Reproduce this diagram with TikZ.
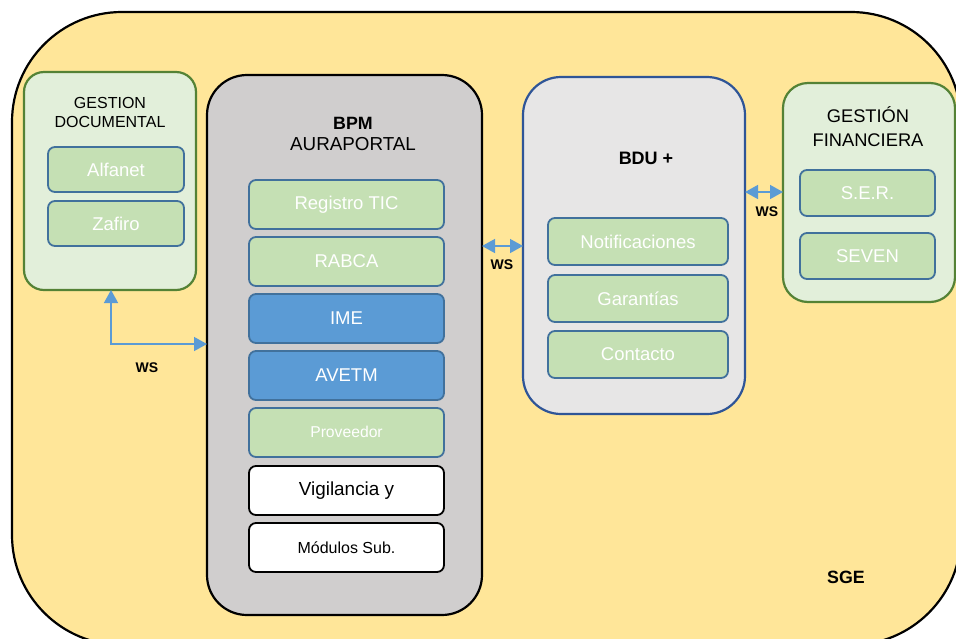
\documentclass[tikz,border=0pt]{standalone}
\usepackage{fontspec}
\setmainfont{Liberation Sans}
\usetikzlibrary{arrows.meta}
\definecolor{sgefill}{HTML}{FFE699}
\definecolor{gdfill}{HTML}{E2EFDA}
\definecolor{gdline}{HTML}{548235}
\definecolor{itemfill}{HTML}{C5E0B4}
\definecolor{itemline}{HTML}{41719C}
\definecolor{bpmfill}{HTML}{D0CECE}
\definecolor{bdufill}{HTML}{E7E6E6}
\definecolor{bduline}{HTML}{2F5597}
\definecolor{imefill}{HTML}{5B9BD5}
\definecolor{wsblue}{HTML}{5B9BD5}
\begin{document}
\begin{tikzpicture}[x=1pt,y=-1pt,
  box/.style={anchor=north west, inner sep=0pt, outer sep=0pt},
  container/.style={box, line width=2.2pt},
  item/.style={box, draw=itemline, fill=itemfill, line width=1.8pt, rounded corners=7pt,
     text=white, font=\fontsize{18.5}{20}\selectfont},
  blueitem/.style={item, fill=imefill},
  whiteitem/.style={box, draw=black, fill=white, line width=1.8pt, rounded corners=7pt,
     text=black},
  wsarrow/.style={draw=wsblue, line width=1.5pt,
     {Triangle[length=13pt,width=14pt,fill=wsblue]}-{Triangle[length=13pt,width=14pt,fill=wsblue]}},
  wslabel/.style={font=\fontsize{14}{15}\selectfont\bfseries, inner sep=0pt},
  title/.style={align=center, inner sep=0pt}]
\useasboundingbox (0,0) rectangle (956,638);
\begin{scope}
\clip (0,0) rectangle (956,638);
\node[container, draw=black, fill=sgefill, rounded corners=110pt,
  minimum width=949pt, minimum height=633pt] (sge) at (12,12) {};
\end{scope}
\node[font=\fontsize{17.8}{19}\selectfont\bfseries, inner sep=0pt] (sgelabel) at (846,577) {SGE};

% GESTION DOCUMENTAL
\node[container, draw=gdline, fill=gdfill, rounded corners=20pt,
  minimum width=172pt, minimum height=218pt] (gd) at (24,72) {};
\node[title, font=\fontsize{16}{19}\selectfont] (gdtitle) at (110,112.5) {GESTION\\DOCUMENTAL};
\node[item, minimum width=136pt, minimum height=45pt] (alfanet) at (48,147) {Alfanet};
\node[item, minimum width=136pt, minimum height=45pt] (zafiro) at (48,201) {Zafiro};

% BPM
\node[container, draw=black, fill=bpmfill, rounded corners=40pt,
  minimum width=275pt, minimum height=540pt] (bpm) at (207,75) {};
\node[font=\fontsize{17.8}{19}\selectfont\bfseries, inner sep=0pt] (bpmt) at (353,123) {BPM};
\node[font=\fontsize{18.8}{20}\selectfont, inner sep=0pt] (aura) at (353,144) {AURAPORTAL};
\node[item, minimum width=195pt, minimum height=49pt] (registro) at (249,180) {Registro TIC};
\node[item, minimum width=195pt, minimum height=49pt] (rabca) at (249,237) {RABCA};
\node[blueitem, minimum width=195pt, minimum height=49pt] (ime) at (249,294) {IME};
\node[blueitem, minimum width=195pt, minimum height=49pt] (avetm) at (249,351) {AVETM};
\node[item, minimum width=195pt, minimum height=49pt] (prov) at (249,408) {};
\node[text=white, font=\fontsize{15.7}{17}\selectfont, inner sep=0pt] (provt) at (346.5,432) {Proveedor};
\node[whiteitem, minimum width=195pt, minimum height=49pt, font=\fontsize{18.9}{20}\selectfont] (vig) at (249,466) {Vigilancia y};
\node[whiteitem, minimum width=195pt, minimum height=49pt, font=\fontsize{16}{18}\selectfont] (mod) at (249,523) {Módulos Sub.};

% BDU
\node[container, draw=bduline, fill=bdufill, rounded corners=38pt,
  minimum width=222pt, minimum height=337pt] (bdu) at (523,77) {};
\node[font=\fontsize{18}{19}\selectfont\bfseries, inner sep=0pt] (bdut) at (646,158) {BDU +};
\node[item, minimum width=180pt, minimum height=47pt] (notif) at (548,218) {Notificaciones};
\node[item, minimum width=180pt, minimum height=47pt] (garant) at (548,275) {Garantías};
\node[item, minimum width=180pt, minimum height=47pt] (contacto) at (548,331) {Contacto};

% GESTION FINANCIERA
\node[container, draw=gdline, fill=gdfill, rounded corners=25pt,
  minimum width=172pt, minimum height=219pt] (gf) at (783,83) {};
\node[title, font=\fontsize{18.3}{24}\selectfont] (gftitle) at (868,127) {GESTIÓN\\FINANCIERA};
\node[item, minimum width=135pt, minimum height=46pt] (ser) at (800,170) {S.E.R.};
\node[item, minimum width=135pt, minimum height=46pt] (seven) at (800,233) {SEVEN};

% connectors
\coordinate (ya) at (0,246);
\coordinate (yb) at (0,192);
\coordinate (xc) at (111,0);
\coordinate (yc) at (0,344);
\draw[wsarrow] (bpm.east |- ya) -- (bdu.west |- ya);
\node[wslabel] (ws1) at (502,265) {WS};
\draw[wsarrow] (bdu.east |- yb) -- (gf.west |- yb);
\node[wslabel] (ws2) at (767,212) {WS};
\draw[wsarrow] (gd.south -| xc) |- (bpm.west |- yc);
\node[wslabel] (ws3) at (147,368) {WS};
\end{tikzpicture}
\end{document}
